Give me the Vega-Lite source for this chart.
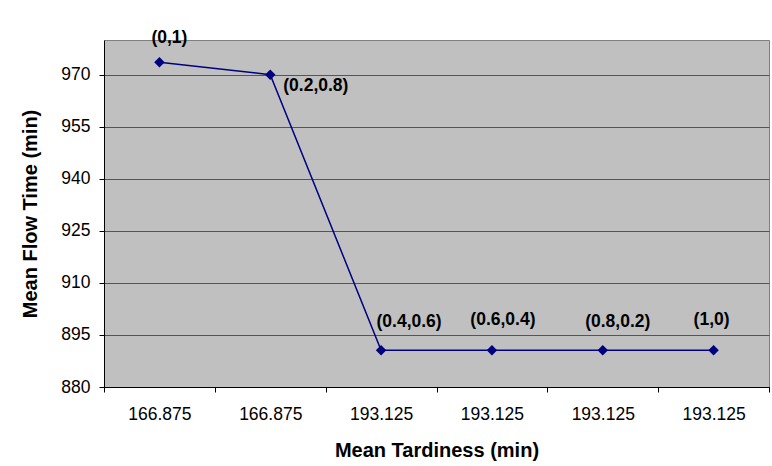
{
  "$schema": "https://vega.github.io/schema/vega-lite/v6.json",
  "width": 665,
  "height": 347,
  "autosize": {"type": "none"},
  "padding": {"left": 104, "top": 40, "right": 3, "bottom": 79},
  "background": "white",
  "config": {
    "font": "Liberation Sans",
    "view": {"fill": "#C0C0C0", "stroke": "#808080", "strokeWidth": 1}
  },
  "data": {
    "values": [
      {"key": "1|166.875", "weights": "(0,1)", "flow": 973.6},
      {"key": "2|166.875", "weights": "(0.2,0.8)", "flow": 970.0},
      {"key": "3|193.125", "weights": "(0.4,0.6)", "flow": 890.6},
      {"key": "4|193.125", "weights": "(0.6,0.4)", "flow": 890.6},
      {"key": "5|193.125", "weights": "(0.8,0.2)", "flow": 890.6},
      {"key": "6|193.125", "weights": "(1,0)", "flow": 890.6}
    ]
  },
  "encoding": {
    "x": {
      "field": "key",
      "type": "ordinal",
      "sort": null,
      "scale": {"type": "band", "paddingInner": 0, "paddingOuter": 0},
      "axis": {
        "title": "Mean Tardiness (min)",
        "labelExpr": "split(datum.label, '|')[1]",
        "labelAngle": 0,
        "tickBand": "extent",
        "tickSize": 5,
        "tickColor": "black",
        "domainColor": "black",
        "labelFontSize": 17.5,
        "labelColor": "black",
        "labelPadding": 13,
        "titleFontSize": 20,
        "titleFontWeight": "bold",
        "titleColor": "black",
        "titlePadding": 18,
        "grid": false
      }
    },
    "y": {
      "field": "flow",
      "type": "quantitative",
      "scale": {"domain": [880, 980], "zero": false, "nice": false},
      "axis": {
        "title": "Mean Flow Time (min)",
        "values": [880, 895, 910, 925, 940, 955, 970],
        "grid": true,
        "gridColor": "#555555",
        "gridWidth": 1.2,
        "tickSize": 5,
        "tickColor": "black",
        "domainColor": "black",
        "labelFontSize": 17.5,
        "labelColor": "black",
        "labelPadding": 9,
        "titleFontSize": 20,
        "titleFontWeight": "bold",
        "titleColor": "black",
        "titlePadding": 20
      }
    }
  },
  "layer": [
    {"mark": {"type": "line", "color": "#000080", "strokeWidth": 1.5}},
    {"mark": {"type": "point", "shape": "diamond", "filled": true, "color": "#000080", "size": 110, "opacity": 1}},
    {
      "transform": [{"filter": "datum.weights === '(0,1)'"}],
      "mark": {"type": "text", "fontWeight": "bold", "fontSize": 17.5, "dx": 10, "dy": -19, "baseline": "alphabetic", "align": "center", "color": "black"},
      "encoding": {"text": {"field": "weights"}}
    },
    {
      "transform": [{"filter": "datum.weights === '(0.2,0.8)'"}],
      "mark": {"type": "text", "fontWeight": "bold", "fontSize": 17.5, "dx": 13, "dy": 16, "baseline": "alphabetic", "align": "left", "color": "black"},
      "encoding": {"text": {"field": "weights"}}
    },
    {
      "transform": [{"filter": "datum.weights === '(0.4,0.6)'"}],
      "mark": {"type": "text", "fontWeight": "bold", "fontSize": 17.5, "dx": 28, "dy": -23, "baseline": "alphabetic", "align": "center", "color": "black"},
      "encoding": {"text": {"field": "weights"}}
    },
    {
      "transform": [{"filter": "datum.weights === '(0.6,0.4)'"}],
      "mark": {"type": "text", "fontWeight": "bold", "fontSize": 17.5, "dx": 11, "dy": -25, "baseline": "alphabetic", "align": "center", "color": "black"},
      "encoding": {"text": {"field": "weights"}}
    },
    {
      "transform": [{"filter": "datum.weights === '(0.8,0.2)'"}],
      "mark": {"type": "text", "fontWeight": "bold", "fontSize": 17.5, "dx": 15, "dy": -23, "baseline": "alphabetic", "align": "center", "color": "black"},
      "encoding": {"text": {"field": "weights"}}
    },
    {
      "transform": [{"filter": "datum.weights === '(1,0)'"}],
      "mark": {"type": "text", "fontWeight": "bold", "fontSize": 17.5, "dx": -2, "dy": -25, "baseline": "alphabetic", "align": "center", "color": "black"},
      "encoding": {"text": {"field": "weights"}}
    }
  ]
}
